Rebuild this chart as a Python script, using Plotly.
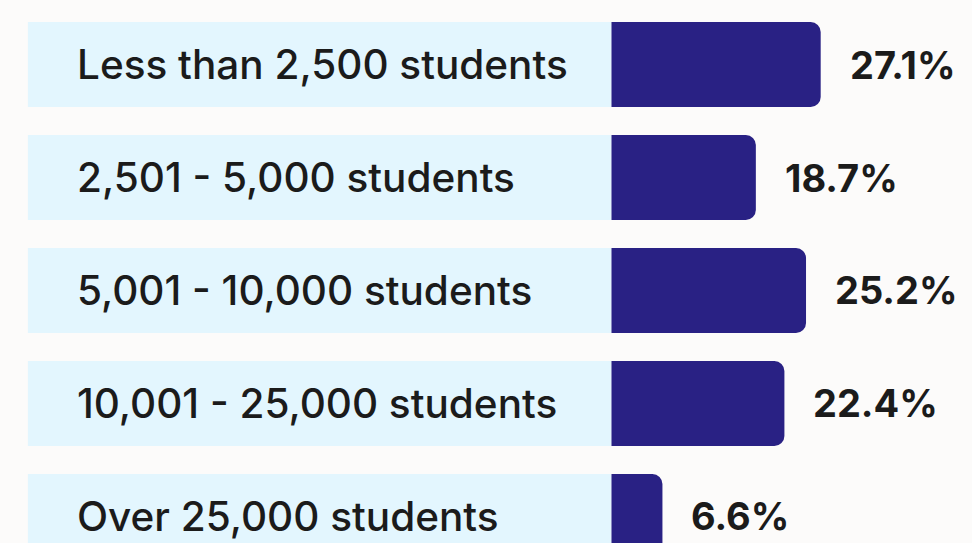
import plotly.graph_objects as go

categories = ["Less than 2,500 students", "2,501 - 5,000 students", "5,001 - 10,000 students",
              "10,001 - 25,000 students", "Over 25,000 students"]
shares = [27.1, 18.7, 25.2, 22.4, 6.6]

BG = "#fcfbfa"
BAND = "#e3f6fe"
NAVY = "#292184"
INK = "#1b1b1b"
FONT = "Inter, Roboto, sans-serif"

BAND_START = -75.6  # where the pale row band begins, in % units left of zero

fig = go.Figure()
# pale background band behind each row, ending where the value bar starts
fig.add_bar(y=categories, x=[-BAND_START] * len(categories), base=BAND_START,
            orientation="h", width=0.752, marker=dict(color=BAND, line=dict(width=0)),
            hoverinfo="skip", showlegend=False)
fig.add_bar(y=categories, x=shares, orientation="h", width=0.752,
            marker=dict(color=NAVY, line=dict(width=0), cornerradius=10),
            hovertemplate="%{y}: %{x}%<extra></extra>", showlegend=False)

for cat, v in zip(categories, shares):
    fig.add_annotation(x=0.077, xref="paper", y=cat, text=cat, showarrow=False,
                       xanchor="left", yanchor="middle",
                       font=dict(family=FONT, size=40.5, weight=500, color=INK))
    fig.add_annotation(x=v, y=cat, text=f"<b>{v}%</b>", showarrow=False,
                       xanchor="left", yanchor="middle", xshift=27,
                       font=dict(family=FONT, size=38, color=INK))

fig.update_layout(width=972, height=543, margin=dict(l=0, r=0, t=0, b=0),
                  paper_bgcolor=BG, plot_bgcolor=BG, barmode="overlay",
                  xaxis=dict(range=[-79.21, 46.70], visible=False, fixedrange=True),
                  yaxis=dict(range=[4.235, -0.571], visible=False, fixedrange=True))
# drop the page's default body margin so the figure sits flush in the window
fig.write_html("out.html", config={"displayModeBar": False},
               post_script="document.body.style.margin='0';"
                           "document.body.style.background='#fcfbfa';")
